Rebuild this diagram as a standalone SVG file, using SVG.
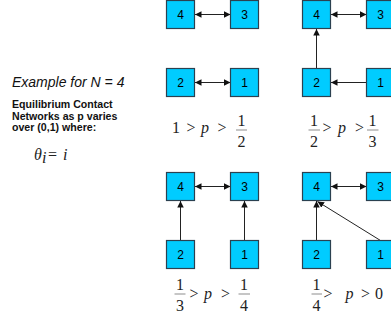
<svg xmlns="http://www.w3.org/2000/svg" width="391" height="320" viewBox="0 0 391 320">
<style>
.box rect{fill:#00ccff;stroke:#2b4150;stroke-width:1.2}
.box text{font-family:"Liberation Sans",Arial,sans-serif;font-size:12px;text-anchor:middle;fill:#000}
.conn line{stroke:#222;stroke-width:1}
.m{font-family:"Liberation Serif","Times New Roman",serif;font-size:16px;fill:#222}
.mi{font-style:italic}
.fc{text-anchor:middle}
.bar{stroke:#a0a0a0;stroke-width:1.2}
.side{font-family:"Liberation Sans",Arial,sans-serif;fill:#111}
</style>
<defs>
<marker id="ah" viewBox="0 0 10 10" refX="10" refY="5" markerWidth="6.5" markerHeight="6.5" markerUnits="userSpaceOnUse" orient="auto-start-reverse">
<path d="M0,0 L10,5 L0,10 z" fill="#111"/>
</marker>
</defs>
<rect width="391" height="320" fill="#fff"/>

<!-- left text -->
<text class="side" x="12" y="87" font-size="14" font-style="italic">Example for N = 4</text>
<text class="side" x="12" y="108" font-size="10.6" font-weight="bold">Equilibrium Contact</text>
<text class="side" x="12" y="119.5" font-size="10.6" font-weight="bold">Networks as p varies</text>
<text class="side" x="12" y="131" font-size="10.6" font-weight="bold">over (0,1) where:</text>
<text class="m mi" x="34" y="160" font-size="19">θ</text>
<text class="m mi" x="42" y="163" font-size="9">i</text>
<text class="m" x="48" y="160" font-size="20">=</text>
<text class="m mi" x="63" y="160" font-size="19">i</text>

<!-- connectors -->
<g class="conn">
<line x1="195" y1="14.5" x2="230.5" y2="14.5" marker-start="url(#ah)" marker-end="url(#ah)"/>
<line x1="195" y1="82.5" x2="230.5" y2="82.5" marker-start="url(#ah)" marker-end="url(#ah)"/>
<line x1="331" y1="14.5" x2="366.5" y2="14.5" marker-start="url(#ah)" marker-end="url(#ah)"/>
<line x1="316.5" y1="68.5" x2="316.5" y2="29" marker-end="url(#ah)"/>
<line x1="366.5" y1="82.5" x2="331" y2="82.5" marker-end="url(#ah)"/>
<line x1="195" y1="186.5" x2="230.5" y2="186.5" marker-start="url(#ah)" marker-end="url(#ah)"/>
<line x1="180.5" y1="240.5" x2="180.5" y2="201" marker-end="url(#ah)"/>
<line x1="244.5" y1="240.5" x2="244.5" y2="201" marker-end="url(#ah)"/>
<line x1="331" y1="186.5" x2="366.5" y2="186.5" marker-start="url(#ah)" marker-end="url(#ah)"/>
<line x1="316.5" y1="240.5" x2="316.5" y2="201" marker-end="url(#ah)"/>
<line x1="380.5" y1="240.5" x2="317.5" y2="201.5" marker-end="url(#ah)"/>
</g>

<!-- diagram 1 -->
<g id="d1n4" class="box"><rect x="166.5" y="0.5" width="28" height="28"/><text x="180.5" y="19">4</text></g>
<g id="d1n3" class="box"><rect x="230.5" y="0.5" width="28" height="28"/><text x="244.5" y="19">3</text></g>
<g id="d1n2" class="box"><rect x="166.5" y="68.5" width="28" height="28"/><text x="180.5" y="87">2</text></g>
<g id="d1n1" class="box"><rect x="230.5" y="68.5" width="28" height="28"/><text x="244.5" y="87">1</text></g>
<!-- diagram 2 -->
<g id="d2n4" class="box"><rect x="302.5" y="0.5" width="28" height="28"/><text x="316.5" y="19">4</text></g>
<g id="d2n3" class="box"><rect x="366.5" y="0.5" width="28" height="28"/><text x="380.5" y="19">3</text></g>
<g id="d2n2" class="box"><rect x="302.5" y="68.5" width="28" height="28"/><text x="316.5" y="87">2</text></g>
<g id="d2n1" class="box"><rect x="366.5" y="68.5" width="28" height="28"/><text x="380.5" y="87">1</text></g>
<!-- diagram 3 -->
<g id="d3n4" class="box"><rect x="166.5" y="172.5" width="28" height="28"/><text x="180.5" y="191">4</text></g>
<g id="d3n3" class="box"><rect x="230.5" y="172.5" width="28" height="28"/><text x="244.5" y="191">3</text></g>
<g id="d3n2" class="box"><rect x="166.5" y="240.5" width="28" height="28"/><text x="180.5" y="259">2</text></g>
<g id="d3n1" class="box"><rect x="230.5" y="240.5" width="28" height="28"/><text x="244.5" y="259">1</text></g>
<!-- diagram 4 -->
<g id="d4n4" class="box"><rect x="302.5" y="172.5" width="28" height="28"/><text x="316.5" y="191">4</text></g>
<g id="d4n3" class="box"><rect x="366.5" y="172.5" width="28" height="28"/><text x="380.5" y="191">3</text></g>
<g id="d4n2" class="box"><rect x="302.5" y="240.5" width="28" height="28"/><text x="316.5" y="259">2</text></g>
<g id="d4n1" class="box"><rect x="366.5" y="240.5" width="28" height="28"/><text x="380.5" y="259">1</text></g>

<!-- label 1 -->
<text class="m" x="172" y="132.5">1</text>
<text class="m" x="186.5" y="132.5">&gt;</text>
<text class="m mi" x="201" y="132.5">p</text>
<text class="m" x="217.5" y="132.5">&gt;</text>
<text class="m fc" x="241.5" y="126">1</text>
<line class="bar" x1="236" y1="130" x2="247" y2="130"/>
<text class="m fc" x="241.5" y="146.5">2</text>
<!-- label 2 -->
<text class="m fc" x="314" y="126">1</text>
<line class="bar" x1="308.5" y1="130" x2="320" y2="130"/>
<text class="m fc" x="314" y="146.5">2</text>
<text class="m" x="322.5" y="132.5">&gt;</text>
<text class="m mi" x="338" y="132.5">p</text>
<text class="m" x="355" y="132.5">&gt;</text>
<text class="m fc" x="372.5" y="126">1</text>
<line class="bar" x1="367" y1="130" x2="378.5" y2="130"/>
<text class="m fc" x="372.5" y="146.5">3</text>
<!-- label 3 -->
<text class="m fc" x="180" y="289.5">1</text>
<line class="bar" x1="174.5" y1="294" x2="185.5" y2="294"/>
<text class="m fc" x="180" y="310.5">3</text>
<text class="m" x="189.5" y="298.5">&gt;</text>
<text class="m mi" x="204" y="298.5">p</text>
<text class="m" x="221" y="298.5">&gt;</text>
<text class="m fc" x="244" y="289.5">1</text>
<line class="bar" x1="238.5" y1="294" x2="250" y2="294"/>
<text class="m fc" x="244" y="310.5">4</text>
<!-- label 4 -->
<text class="m fc" x="316.5" y="289.5">1</text>
<line class="bar" x1="311.5" y1="294" x2="322" y2="294"/>
<text class="m fc" x="316.5" y="310.5">4</text>
<text class="m" x="323.5" y="298.5">&gt;</text>
<text class="m mi" x="345.5" y="298.5">p</text>
<text class="m" x="361" y="298.5">&gt;</text>
<text class="m" x="375" y="298.5">0</text>
</svg>
